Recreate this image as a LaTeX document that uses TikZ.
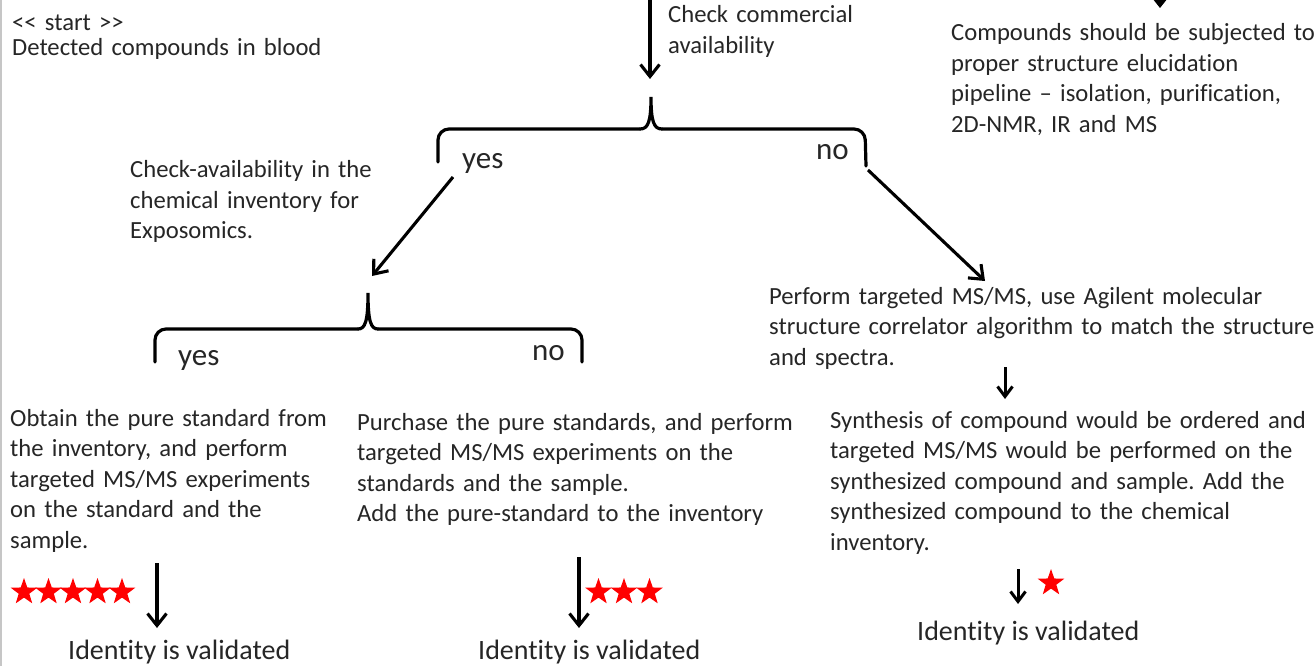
\documentclass[tikz,border=0pt]{standalone}
\usepackage{fontspec}
\setmainfont{Carlito}[Ligatures=NoCommon]
\usetikzlibrary{arrows.meta,shapes.geometric}
\definecolor{txtc}{RGB}{38,38,38}
\definecolor{starred}{RGB}{255,0,0}
\frenchspacing
\begin{document}
\begin{tikzpicture}[x=1pt,y=-1pt,
  txt/.style={anchor=base west, align=left, inner sep=0pt, text=txtc, text width=#1, font=\fontsize{24.65}{30.5}\selectfont},
  txt/.default=560pt,
  lbl/.style={anchor=base west, inner sep=0pt, text=txtc, font=\fontsize{31}{31}\selectfont},
  res/.style={anchor=base west, inner sep=0pt, text=txtc, font=\fontsize{28}{28}\selectfont},
  conn/.style={line width=3.1pt, -{Straight Barb[length=12pt,width=19pt]}},
  sconn/.style={line width=3pt, -{Straight Barb[length=10pt,width=15pt]}},
  bracestyle/.style={line width=3.2pt, line join=round, line cap=round, rounded corners=11pt},
  starshape/.style={star, star points=5, star point ratio=2.5, fill=starred, draw=none, minimum size=28pt, inner sep=0pt},
]
\useasboundingbox (0,0) rectangle (1315,666);
\clip (0,0) rectangle (1315,666);
\fill[white] (0,0) rectangle (1315,666);
\draw[gray!45, line width=1.5pt] (1.2,0) -- (1.2,666);

% texts
\node[txt, font=\fontsize{24.65}{25}\selectfont] (start) at (12,31) {<\kern0pt< start >\kern0pt>\\Detected compounds in blood};
\node[txt] (checkinv) at (130,178) {Check-availability in the\\chemical inventory for\\Exposomics.};
\node[txt] (checkcomm) at (668,23) {Check commercial\\availability};
\node[txt] (compounds) at (951,41) {Compounds should be subjected to\\proper structure elucidation\\pipeline \textendash{} isolation, purification,\\2D-NMR, IR and MS};
\node[txt] (perform) at (769,304) {Perform targeted MS/MS, use Agilent molecular\\structure correlator algorithm to match the structure\\and spectra.};
\node[txt] (synth) at (830,428) {Synthesis of compound would be ordered and\\targeted MS/MS would be performed on the\\synthesized compound and sample. Add the\\synthesized compound to the chemical\\inventory.};
\node[txt] (obtain) at (10,426) {Obtain the pure standard from\\the inventory, and perform\\targeted MS/MS experiments\\on the standard and the\\sample.};
\node[txt] (purchase) at (357,430) {Purchase the pure standards, and perform\\targeted MS/MS experiments on the\\standards and the sample.\\Add the pure-standard to the inventory};

\node[lbl] (yes1) at (462,168) {yes};
\node[lbl] (no1) at (816,160) {no};
\node[lbl] (yes2) at (178,365) {yes};
\node[lbl] (no2) at (532,360) {no};

\node[res] (idl) at (68,659) {Identity is validated};
\node[res] (idm) at (478,659) {Identity is validated};
\node[res] (idr) at (917,640) {Identity is validated};

% stars
\foreach \i/\x in {1/24,2/48.5,3/73,4/97.5,5/122}{
  \node[starshape] (sl\i) at (\x,592) {};
}
\foreach \i/\x in {1/598.5,2/624,3/649.5}{
  \node[starshape] (sm\i) at (\x,592) {};
}
\node[starshape] (sr1) at (1051,583) {};

% braces
\draw[bracestyle] (438,162) -- (438,129) -- (640,129);
\draw[line width=3.2pt, line cap=round] (640,129) .. controls (648,129) and (651,122) .. (651,97)
   .. controls (651,122) and (654,129) .. (662,129);
\draw[bracestyle] (662,129) -- (865,129) -- (866,166);
\coordinate (br1) at (651,97);

\draw[bracestyle] (155,362) -- (155,329) -- (358,329);
\draw[line width=3.2pt, line cap=round] (358,329) .. controls (365,329) and (368,322) .. (368,293)
   .. controls (368,322) and (371,329) .. (378,329);
\draw[bracestyle] (378,329) -- (582,329) -- (582,362);
\coordinate (br2) at (368,293);

% connectors
\coordinate (topin) at (650,-5);
\coordinate (topend) at (650,79);
\draw[conn] (topin) -- (topend);
\coordinate (trin) at (1160,-20);
\coordinate (trend) at (1160,8);
\draw[conn] (trin) -- (trend);

\coordinate (yesfrom) at (453,177);
\coordinate (yesto) at (372,276);
\draw[conn] (yesfrom) -- (yesto);
\coordinate (nofrom) at (868,170);
\coordinate (noto) at (985,281);
\draw[conn] (nofrom) -- (noto);

\coordinate (pf1) at (1005,367);
\coordinate (pf2) at (1005,399);
\draw[sconn] (pf1) -- (pf2);
\coordinate (sy1) at (1018,569);
\coordinate (sy2) at (1018,604);
\draw[sconn] (sy1) -- (sy2);
\coordinate (ob1) at (157,563);
\coordinate (ob2) at (157,628);
\draw[conn] (ob1) -- (ob2);
\coordinate (pu1) at (579,557);
\coordinate (pu2) at (579,628);
\draw[conn] (pu1) -- (pu2);
\end{tikzpicture}
\end{document}
